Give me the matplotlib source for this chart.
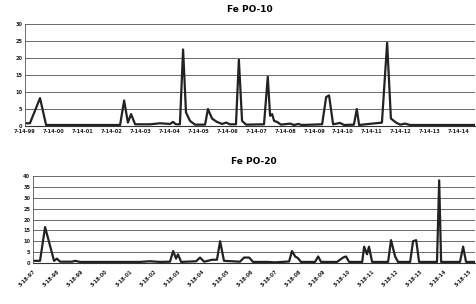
import matplotlib.pyplot as plt

# Fe PO-10: time in years after 7-14-99, concentration
po10_t = [0, 0.17, 0.52, 0.73, 3.29, 3.43, 3.56, 3.67, 3.81, 4.33, 4.67, 5.02, 5.12, 5.22,
          5.36, 5.47, 5.57, 5.71, 5.88, 6.23, 6.33, 6.47, 6.64, 6.82, 6.96, 7.09, 7.30, 7.40,
          7.51, 7.65, 8.27, 8.40, 8.48, 8.55, 8.62, 8.72, 8.86, 9.17, 9.31, 9.45, 9.58, 10.28,
          10.42, 10.52, 10.66, 10.90, 11.04, 11.38, 11.48, 11.56, 12.35, 12.53, 12.66, 12.84,
          12.98, 13.15, 13.32, 15.57]
po10_v = [0.8, 0.8, 8.2, 0.3, 0.3, 7.5, 1.0, 3.5, 0.5, 0.5, 0.8, 0.6, 1.2, 0.5,
          0.5, 22.5, 4.0, 1.5, 0.4, 0.4, 5.0, 2.2, 1.2, 0.6, 1.0, 0.5, 0.5, 19.5,
          1.5, 0.4, 0.5, 14.5, 3.0, 3.5, 1.5, 1.2, 0.4, 0.7, 0.3, 0.6, 0.3, 0.5,
          8.5, 9.0, 0.5, 0.9, 0.3, 0.4, 5.0, 0.3, 1.0, 24.5, 2.2, 1.0,
          0.4, 0.7, 0.3, 0.3]
po10_labels = ['7-14-99', '7-14-00', '7-14-01', '7-14-02', '7-14-03', '7-14-04', '7-14-05',
               '7-14-06', '7-14-07', '7-14-08', '7-14-09', '7-14-10', '7-14-11', '7-14-12',
               '7-14-13', '7-14-14']

# Fe PO-20: time in years after 3-18-97, concentration
po20_t = [0, 0.29, 0.50, 0.87, 0.99, 1.12, 1.61, 1.74, 1.94, 4.42, 4.83, 5.25, 5.66, 5.79,
          5.91, 5.99, 6.12, 6.74, 6.90, 7.07, 7.40, 7.60, 7.73, 7.89, 8.55, 8.72, 8.93, 9.09,
          9.71, 10.0, 10.58, 10.70, 10.83, 10.95, 11.07, 11.65, 11.78, 11.90, 12.56, 12.81,
          12.93, 13.06, 13.60, 13.68, 13.80, 13.88, 14.01, 14.67, 14.79, 14.96, 15.08, 15.58,
          15.70, 15.83, 15.95, 16.69, 16.78, 16.86, 17.64, 17.77, 17.89, 18.26]
po20_v = [1.0, 1.0, 16.5, 1.0, 2.0, 0.6, 0.6, 1.0, 0.5, 0.5, 0.8, 0.5, 0.6, 5.5,
          2.0, 4.0, 0.5, 0.8, 2.5, 0.6, 1.5, 1.5, 10.0, 1.0, 0.6, 2.5, 2.5, 0.5,
          0.5, 0.3, 0.7, 5.5, 3.0, 2.2, 0.5, 0.5, 3.0, 0.5, 0.5, 2.5,
          3.0, 0.5, 0.5, 7.5, 4.0, 7.5, 0.5, 0.5, 10.5, 3.0, 0.5, 0.5,
          10.0, 10.5, 0.5, 0.5, 38.0, 0.5, 0.5, 7.5, 0.5, 0.5]
po20_labels = ['3-18-97', '3-18-98', '3-18-99', '3-18-00', '3-18-01', '3-18-02', '3-18-03',
               '3-18-04', '3-18-05', '3-18-06', '3-18-07', '3-18-08', '3-18-09', '3-18-10',
               '3-18-11', '3-18-12', '3-18-13', '3-18-14', '3-18-15']

fig = plt.figure(figsize=(4.77, 3.04), dpi=100)
ax1 = fig.add_axes([25 / 477, 178 / 304, 450 / 477, 102 / 304])
ax2 = fig.add_axes([33 / 477, 41 / 304, 442 / 477, 87 / 304])


def style(ax, ymax):
    for s in ['top', 'right']:
        ax.spines[s].set_visible(False)
    ax.spines['left'].set_color('#555555')
    ax.spines['left'].set_linewidth(0.6)
    ax.spines['bottom'].set_color('#333333')
    ax.spines['bottom'].set_linewidth(0.8)
    ax.set_ylim(0, ymax)
    ax.set_yticks(range(0, ymax + 1, 5))
    ax.yaxis.grid(True, color='#6a6a6a', linewidth=0.7)
    ax.set_axisbelow(True)
    ax.tick_params(axis='both', length=0, labelsize=3.6, pad=2, colors='#222222')
    for lbl in ax.get_xticklabels() + ax.get_yticklabels():
        lbl.set_fontweight('bold')


ax1.plot(po10_t, po10_v, color='#222222', linewidth=1.6)
ax1.set_xlim(0, 15.57)
ax1.set_xticks(range(len(po10_labels)))
ax1.set_xticklabels(po10_labels)
style(ax1, 30)
ax1.set_title('Fe PO-10', fontsize=6.5, fontweight='bold', pad=9)

ax2.plot(po20_t, po20_v, color='#222222', linewidth=1.6)
ax2.set_xlim(0, 18.26)
ax2.set_xticks(range(len(po20_labels)))
ax2.set_xticklabels(po20_labels, rotation=45, ha='right', rotation_mode='anchor')
style(ax2, 40)
ax2.tick_params(axis='x', pad=4)
ax2.set_title('Fe PO-20', fontsize=6.5, fontweight='bold', pad=9)

fig.savefig('out.png', dpi=100)
